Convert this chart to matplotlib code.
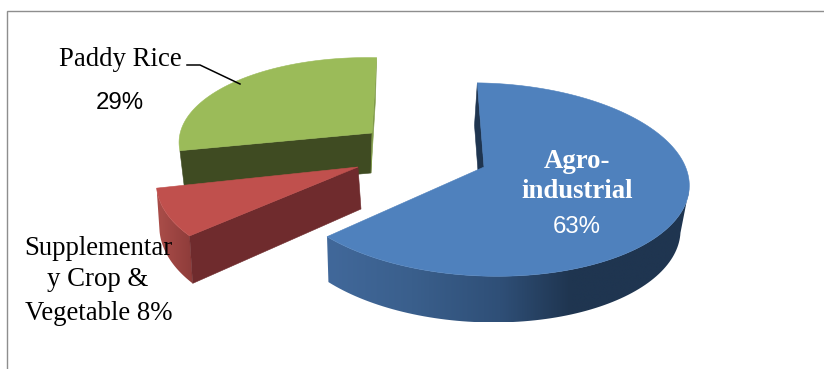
import numpy as np
import matplotlib
matplotlib.use("Agg")
import matplotlib.pyplot as plt
from matplotlib.colors import to_rgb
from matplotlib.patches import Polygon

# Shares of the pie, clockwise from the top
categories = ["Agro-industrial", "Supplementary Crop & Vegetable", "Paddy Rice"]
shares = [63, 8, 29]

START_ANGLE = -1.0
PERSPECTIVE = 0.13

# 3D look of each slice: apex position, radii, shear, extrusion and shading
blue_style = dict(apex=(484, 167), a=203, b=95, skew=-4, tilt=4,
                  drop=(-3, 44), sx=0.972, sy=1.02, rim_from=100,
                  top="#4f81bd", rim_x=[329, 412, 500, 570],
                  rim_c=["#41689a", "#3a5f8c", "#2f4f77", "#1f3550"],
                  wall_a0="#1f3550", wall_a1=None)
red_style = dict(apex=(358, 167), a=197, b=95, skew=17, tilt=5,
                 drop=(3, 42), sx=1.0, sy=1.08, rim_from=0,
                 top="#c0504d", rim_x=[160, 193], rim_c=["#a84c48", "#8c3b39"],
                 wall_a0="#6f2b2d", wall_a1=None)
green_style = dict(apex=(372, 133), a=190, b=85, skew=8.5, tilt=5.7,
                   drop=(-1, 40), sx=0.97, sy=0.97, rim_from=0,
                   top="#9bbb59", rim_x=None, rim_c=None,
                   wall_a0="#3f4b22", wall_a1="#7f9a48")


def project(theta, r, st, lower=False):
    """Map a disc point (clockwise degrees from the top) to figure pixels."""
    t = np.radians(theta)
    X, Y = r * np.sin(t), r * np.cos(t)
    s = 1 / (1 + PERSPECTIVE * Y)
    px = (st["a"] * X + st["skew"] * Y) * s
    py = (-st["b"] * Y + st["tilt"] * X) * s
    ax_, ay_ = st["apex"]
    if lower:
        return ax_ + st["drop"][0] + px * st["sx"], ay_ + st["drop"][1] + py * st["sy"]
    return ax_ + px, ay_ + py


def draw_rim(ax, th, st, z):
    # outer rim, a horizontal colour ramp clipped to the band between both arcs
    tx, ty = project(th, 1, st)
    bx, by = project(th, 1, st, lower=True)
    xs = np.r_[tx, bx[::-1]]
    ys = np.r_[ty, by[::-1]]
    x0, x1 = xs.min(), xs.max()
    y0, y1 = ys.min(), ys.max()
    grid = np.linspace(x0, x1, 256)
    rgb = np.array([to_rgb(c) for c in st["rim_c"]])
    ramp = np.stack([np.interp(grid, st["rim_x"], rgb[:, k]) for k in range(3)], axis=-1)
    clip = Polygon(np.column_stack([xs, ys]), transform=ax.transData, fc="none", ec="none")
    ax.add_patch(clip)
    im = ax.imshow(ramp[None, :, :], extent=(x0, x1, y1, y0), aspect="auto",
                   interpolation="bilinear", zorder=z)
    im.set_clip_path(clip)


def draw_slice(ax, a0, a1, st, z):
    th = np.linspace(a0, a1, 160)
    tx, ty = project(th, 1, st)
    bx, by = project(th, 1, st, lower=True)
    ox, oy = project(0, 0, st)
    lx, ly = project(0, 0, st, lower=True)

    if st["rim_x"] is not None:
        draw_rim(ax, th[th >= st["rim_from"]], st, z)

    # flat cut faces
    for idx, col in ((0, st["wall_a0"]), (-1, st["wall_a1"])):
        if col:
            ax.add_patch(Polygon([(tx[idx], ty[idx]), (ox, oy), (lx, ly), (bx[idx], by[idx])],
                                 fc=col, ec=col, lw=0.4, zorder=z + 0.1))

    # top face
    ax.add_patch(Polygon(np.column_stack([np.r_[ox, tx], np.r_[oy, ty]]),
                         fc=st["top"], ec=st["top"], lw=0.4, zorder=z + 0.2))


fig = plt.figure(figsize=(8.24, 3.69), dpi=100)
ax = fig.add_axes([0, 0, 1, 1])
ax.axis("off")

# frame only shows on the top and left
ax.plot([7, 7, 824], [369, 10.5, 10.5], color="#8e8e8e", lw=1.0, solid_joinstyle="miter", zorder=1)

edges = START_ANGLE + np.cumsum([0] + shares) * 3.6
# back to front
draw_slice(ax, edges[2], edges[3], green_style, 2)
draw_slice(ax, edges[1], edges[2], red_style, 3)
draw_slice(ax, edges[0], edges[1], blue_style, 4)

ax.set_xlim(0, 824)
ax.set_ylim(369, 0)

serif = "Liberation Serif"
sans = "Liberation Sans"
fs = 19.3
pct = 17.3

ax.plot([187, 200, 240], [65, 65, 84], color="black", lw=1.1, zorder=6)
ax.text(120.5, 66, categories[2], family=serif, fontsize=fs, ha="center", va="baseline", color="black", zorder=7)
ax.text(120, 109, f"{shares[2]}%", family=sans, fontsize=pct, ha="center", va="baseline", color="black", zorder=7)

ax.text(98.5, 255, "Supplementar", family=serif, fontsize=fs, ha="center", va="baseline", color="black", zorder=7)
ax.text(98, 286, "y Crop &", family=serif, fontsize=fs, ha="center", va="baseline", color="black", zorder=7)
ax.text(99, 320, f"Vegetable {shares[1]}%", family=serif, fontsize=fs, ha="center", va="baseline", color="black", zorder=7)

ax.text(577, 168, "Agro-", family=serif, fontsize=fs, weight="bold", ha="center", va="baseline", color="white", zorder=7)
ax.text(577, 198, "industrial", family=serif, fontsize=fs, weight="bold", ha="center", va="baseline", color="white", zorder=7)
ax.text(577, 233, f"{shares[0]}%", family=sans, fontsize=pct, ha="center", va="baseline", color="white", zorder=7)

fig.savefig("out.png", dpi=100)
